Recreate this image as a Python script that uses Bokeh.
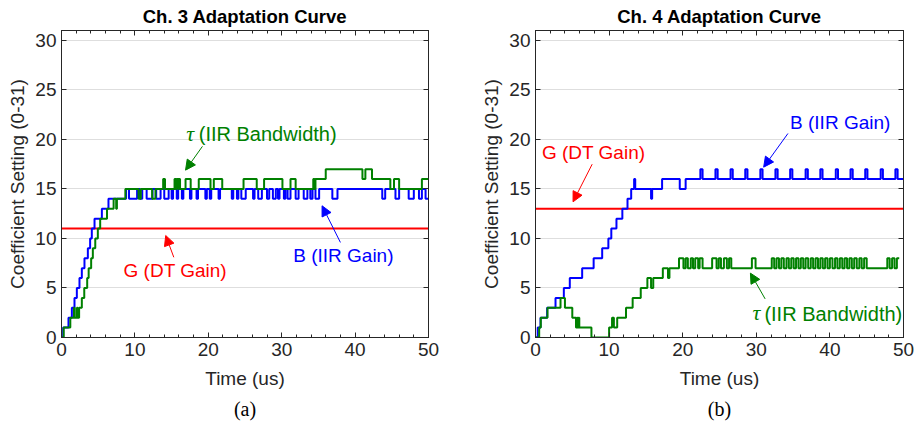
from bokeh.plotting import figure
from bokeh.layouts import row
from bokeh.models import (Range1d, LinearAxis, Label, Arrow, NormalHead, Title,
                          FixedTicker, SingleIntervalTicker)
from bokeh.embed import file_html
from bokeh.resources import INLINE

# ---------------- data ----------------
time_limits = [0, 50]
coef_limits = [0, 31]
time_ticks = [0, 10, 20, 30, 40, 50]
coef_ticks = [0, 5, 10, 15, 20, 25, 30]

ch3_dt_gain = 11
ch4_dt_gain = 13

# Ch. 3  B (IIR Gain)
ch3_b_t = [0, 0.23, 0.95, 1.41, 1.77, 2.09, 2.45, 2.77, 3.13, 3.59, 3.90, 4.13, 4.50, 5.50, 6.40,
           8.8, 9.2, 10.3, 10.7, 11.0, 11.6, 12.4, 12.9, 13.5, 14.0, 14.6,
           15.0, 15.2, 15.7, 15.9, 16.4, 16.6, 17.5, 17.7, 18.4, 18.6, 19.6, 19.8, 20.2, 20.4,
           21.4, 21.6, 23.2, 23.4, 23.9, 24.1, 24.5, 25.1, 26.1, 26.3, 26.8, 27.3, 28.0, 28.3,
           28.8, 29.2, 29.5, 29.7, 30.3, 30.5, 30.8, 31.2, 31.9, 32.3, 33.0, 33.5, 33.9, 34.2,
           34.6, 35.1, 36.9, 37.6, 43.7, 44.1, 45.5, 46.0, 47.3, 48.0, 48.7, 49.1, 49.6, 50.0]
ch3_b_v = [0, 1, 2, 3, 4, 5, 6, 7, 8, 9, 10, 11, 12, 13, 14,
           15, 14, 15, 14, 15, 14, 15, 14, 15, 14, 15,
           14, 15, 14, 15, 14, 15, 14, 15, 14, 15, 14, 15, 14, 15,
           14, 15, 14, 15, 14, 15, 14, 15, 14, 15, 14, 15, 14, 15,
           14, 15, 14, 15, 14, 15, 14, 15, 14, 15, 14, 15, 14, 15,
           14, 15, 14, 15, 14, 15, 14, 15, 14, 15, 14, 15, 14, 14]

# Ch. 3  tau (IIR Bandwidth)
ch3_g_t = [0, 0.30, 1.20, 1.70, 1.80, 2.10, 2.20, 2.40, 2.77, 3.10, 3.50, 3.70, 4.04, 4.27,
           4.60, 4.95, 5.27, 6.20, 7.10, 7.45, 7.55, 8.70,
           10.5, 10.8, 12.35, 12.8, 13.85, 14.1, 15.4, 15.55, 15.7, 15.9, 16.0, 16.15,
           16.9, 17.6, 18.7, 20.3, 20.75, 21.9, 24.8, 26.6, 27.6, 30.1, 31.2, 31.9,
           34.3, 34.45, 34.6, 36.0, 41.0, 41.4, 42.3, 44.8, 45.3, 46.0, 49.1, 50.0]
ch3_g_v = [0, 1, 2, 3, 2, 3, 2, 3, 4, 5, 6, 7, 8, 9,
           10, 11, 12, 13, 14, 13, 14, 15,
           14, 15, 14, 15, 16, 15, 16, 15, 16, 15, 16, 15,
           16, 15, 16, 15, 16, 15, 16, 15, 16, 15, 16, 15,
           16, 15, 16, 17, 16, 17, 16, 15, 16, 15, 16, 16]

# Ch. 4  B (IIR Gain)
ch4_b_t = [0, 0.30, 0.68, 1.58, 2.72, 3.85, 4.66, 6.34, 7.90, 9.06, 9.90, 10.30, 11.00,
           11.80, 12.50, 13.00, 13.40, 13.55, 15.70, 15.85, 17.20, 19.60, 20.40,
           22.40, 22.70, 24.45, 24.75, 26.50, 26.80, 28.50, 28.80, 30.55, 30.85,
           32.60, 32.90, 34.60, 34.90, 36.70, 37.00, 38.70, 39.00, 40.80, 41.10,
           42.80, 43.10, 44.80, 45.10, 46.90, 47.20, 48.90, 49.20, 50.0]
ch4_b_v = [0, 1, 2, 3, 4, 5, 6, 7, 8, 9, 10, 11, 12,
           13, 14, 15, 16, 15, 14, 15, 16, 15, 16,
           17, 16, 17, 16, 17, 16, 17, 16, 17, 16,
           17, 16, 17, 16, 17, 16, 17, 16, 17, 16,
           17, 16, 17, 16, 17, 16, 17, 16, 16]

# Ch. 4  tau (IIR Bandwidth)
ch4_g_t = [0, 0.50, 0.72, 1.63, 3.40, 4.00, 5.00, 5.50, 5.62, 5.72, 5.84, 5.95, 7.60,
           10.00, 10.40, 10.65, 11.10, 12.30, 13.20, 14.30, 15.20, 15.70, 16.00,
           17.30, 18.00, 18.20, 19.50, 20.10, 20.40, 20.70, 21.10, 21.40, 21.70, 22.10,
           22.30, 22.70, 24.00, 24.60, 24.90, 25.20, 25.60, 26.00, 26.30, 26.60,
           29.40, 29.90, 32.10, 32.43, 32.75, 33.08, 33.40, 33.74, 34.10, 34.42,
           34.75, 35.08, 35.40, 35.73, 36.05, 36.38, 36.70, 37.05, 37.40, 37.72,
           38.05, 38.38, 38.70, 39.03, 39.35, 39.68, 40.00, 40.35, 40.70, 41.02,
           41.35, 41.68, 42.00, 42.33, 42.65, 42.98, 43.30, 43.65, 44.00, 44.32,
           44.65, 45.00, 47.80, 48.12, 48.45, 48.78, 49.10, 49.42, 49.75, 50.0]
ch4_g_v = [0, 1, 2, 3, 4, 3, 2, 1, 2, 1, 2, 1, 0,
           1, 2, 1, 2, 3, 4, 5, 6, 5, 6,
           7, 6, 7, 8, 7, 8, 7, 8, 7, 8, 7,
           8, 7, 8, 7, 8, 7, 8, 7, 8, 7,
           8, 7, 8, 7, 8, 7, 8, 7, 8, 7,
           8, 7, 8, 7, 8, 7, 8, 7, 8, 7,
           8, 7, 8, 7, 8, 7, 8, 7, 8, 7,
           8, 7, 8, 7, 8, 7, 8, 7, 8, 7,
           8, 7, 8, 7, 8, 7, 8, 8]

# ---------------- styling ----------------
AX = "#262626"
BLUE = "#0000ff"
GREEN = "#008000"
RED = "#ff0000"
SANS = "Liberation Sans"
FS = "19px"


def style_axis(ax, labels=True):
    ax.axis_line_color = AX
    ax.major_tick_line_color = AX
    ax.minor_tick_line_color = AX
    ax.major_tick_in = 5
    ax.major_tick_out = 0
    ax.minor_tick_in = 3
    ax.minor_tick_out = 0
    ax.major_label_text_font = SANS
    ax.major_label_text_color = AX
    ax.axis_label_text_font = SANS
    ax.axis_label_text_font_style = "normal"
    ax.axis_label_text_color = AX
    ax.axis_label_text_font_size = FS
    if labels:
        ax.major_label_text_font_size = FS
    else:
        ax.major_label_text_font_size = "0px"
        ax.major_label_text_color = None
        ax.major_label_standoff = 0


def make_fig(title, caption, bl, br):
    p = figure(width=457, height=435, output_backend="svg", toolbar_location=None,
               x_range=Range1d(*time_limits), y_range=Range1d(*coef_limits),
               min_border_left=bl, min_border_right=br, min_border_top=30,
               min_border_bottom=98)
    p.title.text = title
    p.title.align = "center"
    p.title.text_font = SANS
    p.title.text_font_size = "18.5px"
    p.title.text_font_style = "bold"
    p.title.text_color = "black"
    p.title.standoff = 7
    p.outline_line_color = AX
    p.background_fill_color = "white"
    p.border_fill_color = "white"

    xt = SingleIntervalTicker(interval=10, num_minor_ticks=5)
    yt = FixedTicker(ticks=coef_ticks, minor_ticks=[])
    p.xaxis.ticker = xt
    p.yaxis.ticker = yt
    p.xaxis.axis_label = "Time (us)"
    p.yaxis.axis_label = "Coefficient Setting (0-31)"
    style_axis(p.xaxis[0])
    style_axis(p.yaxis[0])
    p.xaxis.major_label_standoff = 5
    p.xaxis.axis_label_standoff = 9
    p.yaxis.major_label_standoff = 5
    p.yaxis.axis_label_standoff = 4

    top = LinearAxis(ticker=SingleIntervalTicker(interval=10, num_minor_ticks=5))
    right = LinearAxis(ticker=FixedTicker(ticks=coef_ticks, minor_ticks=[]))
    style_axis(top, labels=False)
    style_axis(right, labels=False)
    p.add_layout(top, "above")
    p.add_layout(right, "right")

    p.xgrid.visible = False
    p.ygrid.ticker = FixedTicker(ticks=coef_ticks)
    p.ygrid.grid_line_color = "#dedede"
    p.ygrid.grid_line_width = 1

    cap = Title(text=caption, align="center", text_font="Liberation Serif",
                text_font_size="20px", text_font_style="normal", text_color="black",
                standoff=8)
    p.add_layout(cap, "below")
    return p


def label(p, x, y, text, color, font=SANS, style="normal", align="center", size=FS):
    p.add_layout(Label(x=x, y=y, text=text, text_color=color, text_font=font,
                       text_font_style=style, text_font_size=size, text_align=align,
                       text_baseline="middle"))


def arrow(p, xs, ys, xe, ye, color):
    p.add_layout(Arrow(end=NormalHead(size=10, fill_color=color, line_color=color, line_width=1),
                       x_start=xs, y_start=ys, x_end=xe, y_end=ye,
                       line_color=color, line_width=1))


# ---------------- Ch. 3 ----------------
p1 = make_fig("Ch. 3 Adaptation Curve", "(a)", 61, 29)
p1.line(time_limits, [ch3_dt_gain, ch3_dt_gain], line_color=RED, line_width=2)
p1.step(ch3_b_t, ch3_b_v, mode="after", line_color=BLUE, line_width=2)
p1.step(ch3_g_t, ch3_g_v, mode="after", line_color=GREEN, line_width=2)

label(p1, 17.0, 20.6, "τ", GREEN, font="Liberation Serif", style="italic", align="left", size="22px")
label(p1, 18.7, 20.5, "(IIR Bandwidth)", GREEN, align="left", size="20px")
arrow(p1, 19.2, 19.3, 16.9, 16.9, GREEN)
label(p1, 38.4, 8.3, "B (IIR Gain)", BLUE)
arrow(p1, 38.0, 9.6, 35.5, 13.3, BLUE)
label(p1, 15.5, 6.8, "G (DT Gain)", RED)
arrow(p1, 15.3, 8.1, 14.2, 10.3, RED)

# ---------------- Ch. 4 ----------------
p2 = make_fig("Ch. 4 Adaptation Curve", "(b)", 78, 11)
p2.line(time_limits, [ch4_dt_gain, ch4_dt_gain], line_color=RED, line_width=2)
p2.step(ch4_b_t, ch4_b_v, mode="after", line_color=BLUE, line_width=2)
p2.step(ch4_g_t, ch4_g_v, mode="after", line_color=GREEN, line_width=2)

label(p2, 41.4, 21.7, "B (IIR Gain)", BLUE)
arrow(p2, 34.3, 20.6, 31.0, 17.2, BLUE)
label(p2, 7.9, 18.7, "G (DT Gain)", RED)
arrow(p2, 7.7, 17.5, 5.1, 13.7, RED)
label(p2, 29.5, 2.5, "τ", GREEN, font="Liberation Serif", style="italic", align="left", size="22px")
label(p2, 31.1, 2.4, "(IIR Bandwidth)", GREEN, align="left", size="20px")
arrow(p2, 31.2, 3.9, 29.2, 6.5, GREEN)

layout = row(p1, p2)
open("out.html", "w").write(file_html(layout, INLINE))
